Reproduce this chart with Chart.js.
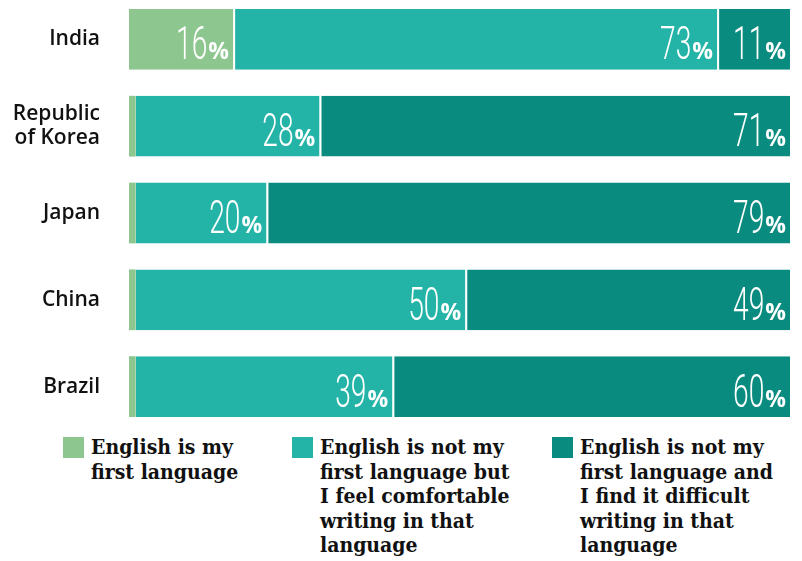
<!DOCTYPE html>
<html><head><meta charset="utf-8">
<script src="https://cdn.jsdelivr.net/npm/chart.js@4/dist/chart.umd.min.js"></script>
<style>
html,body{margin:0;padding:0;background:#fff;}
#wrap{position:relative;width:802px;height:561px;overflow:hidden;}
#c{position:absolute;left:0;top:-4px;}
.leg{position:absolute;top:437px;font-family:"DejaVu Serif Condensed","DejaVu Serif",serif;font-weight:bold;font-size:21px;line-height:24.5px;color:#111;}
.leg .box{position:absolute;left:0;top:0;width:21px;height:21px;}
.leg .txt{position:absolute;left:28px;top:-2px;white-space:nowrap;}
</style></head>
<body><div id="wrap"><canvas id="c" width="802" height="434"></canvas>
<div class="leg" style="left:63px"><div class="box" style="background:#8dc68f"></div><div class="txt">English is my<br>first language</div></div>
<div class="leg" style="left:292px"><div class="box" style="background:#24b4a7"></div><div class="txt">English is not my<br>first language but<br>I feel comfortable<br>writing in that<br>language</div></div>
<div class="leg" style="left:552px"><div class="box" style="background:#098c7f"></div><div class="txt">English is not my<br>first language and<br>I find it difficult<br>writing in that<br>language</div></div>
</div>
<script>
const categories = [["India"], ["Republic", "of Korea"], ["Japan"], ["China"], ["Brazil"]];
const firstLanguage = [16, 1, 1, 1, 1];
const comfortable = [73, 28, 20, 50, 39];
const difficult = [11, 71, 79, 49, 60];
const seriesNames = ["English is my first language", "English is not my first language but I feel comfortable writing in that language", "English is not my first language and I find it difficult writing in that language"];
const colors = ["#8dc68f", "#24b4a7", "#098c7f"];

const labelPlugin = {
  id: 'pctLabels',
  afterDatasetsDraw(chart) {
    const ctx = chart.ctx;
    chart.data.datasets.forEach((ds, di) => {
      const meta = chart.getDatasetMeta(di);
      meta.data.forEach((bar, i) => {
        const v = ds.data[i];
        if (v < 5) return;
        const xr = bar.x - 6;
        const yb = bar.y + 20;
        ctx.save();
        ctx.fillStyle = '#fff';
        ctx.textBaseline = 'alphabetic';
        ctx.textAlign = 'right';
        ctx.font = 'bold 23px "Open Sans"';
        ctx.fillText('%', xr, yb);
        const pw = ctx.measureText('%').width;
        ctx.translate(xr - pw - 1, yb);
        ctx.scale(0.6, 1);
        ctx.font = '300 47px Roboto';
        ctx.fillText(String(v), 0, 0);
        ctx.restore();
      });
    });
  }
};

function sepBorder(ctx) {
  const v = ctx.raw;
  return {top: 0, bottom: 0, left: 0, right: v > 5 ? 2 : 0};
}

new Chart(document.getElementById('c'), {
  type: 'bar',
  data: {
    labels: categories,
    datasets: [
      {label: seriesNames[0], data: firstLanguage, backgroundColor: colors[0]},
      {label: seriesNames[1], data: comfortable, backgroundColor: colors[1]},
      {label: seriesNames[2], data: difficult, backgroundColor: colors[2]}
    ].map(d => Object.assign(d, {borderColor: '#fff', borderWidth: sepBorder, borderSkipped: false, categoryPercentage: 0.7, barPercentage: 1}))
  },
  options: {
    indexAxis: 'y',
    responsive: false,
    maintainAspectRatio: false,
    animation: false,
    layout: {autoPadding: false, padding: {left: 0, right: 10, top: 0, bottom: 0}},
    plugins: {legend: {display: false}, tooltip: {enabled: false}},
    scales: {
      x: {stacked: true, min: 0, max: 100, display: false},
      y: {
        stacked: true,
        grid: {display: false, drawTicks: false},
        border: {display: false},
        ticks: {color: '#111', padding: 29, font: {family: '"Open Sans"', weight: '600', size: 21, lineHeight: 1.15}},
        afterFit(s) { s.width = 129; s.paddingTop = 0; s.paddingBottom = 0; }
      }
    }
  },
  plugins: [labelPlugin]
});
</script></body></html>
